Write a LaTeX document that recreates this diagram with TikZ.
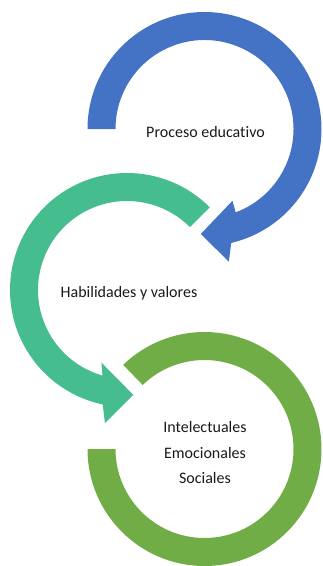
\documentclass[tikz,border=0pt]{standalone}
\usepackage{fontspec}
\setmainfont{Carlito}[Ligatures=NoCommon]
\definecolor{cblue}{HTML}{4472C4}
\definecolor{cteal}{HTML}{45BD8F}
\definecolor{cgreen}{HTML}{70AD47}
\begin{document}
\begin{tikzpicture}[x=1pt,y=1pt,
  lbl/.style={font=\fontsize{16}{25.5}\selectfont, text=black!90, align=center, inner sep=0pt}]
\useasboundingbox (0,0) rectangle (322,-566);
% blue arrow
\begin{scope}[shift={(204.5,-129)}]
\fill[cblue] (180:117) arc[start angle=180, end angle=-76.8, radius=117]
  -- (-79.6:135) -- (-92:105) -- (-68.7:77) -- (-69.5:89)
  arc[start angle=-69.5, end angle=180, radius=89] -- cycle;
\end{scope}
% teal arrow
\begin{scope}[shift={(127,-290)}]
\fill[cteal] (45:89) -- (45:117) arc[start angle=45, end angle=258, radius=117]
  -- (260.6:135) -- (273.4:105) -- (250.6:77) -- (254:89)
  arc[start angle=254, end angle=45, radius=89] -- cycle;
\end{scope}
% green arc
\begin{scope}[shift={(204.5,-449)}]
\fill[cgreen] (180:117) arc[start angle=180, end angle=494, radius=117]
  -- (134:89) arc[start angle=494, end angle=180, radius=89] -- cycle;
\end{scope}
\node[lbl] (pe) at (205.5,-132) {Proceso educativo};
\node[lbl] (hv) at (129,-293) {Habilidades y valores};
\node[lbl] (ies) at (205,-452.5) {Intelectuales\\Emocionales\\Sociales};
\end{tikzpicture}
\end{document}
